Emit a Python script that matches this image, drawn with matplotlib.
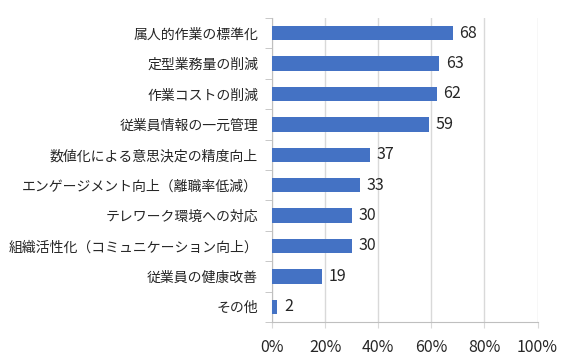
import numpy as np
import matplotlib
matplotlib.use("Agg")
import matplotlib.pyplot as plt

plt.rcParams['font.family'] = ['Noto Sans CJK JP', 'DejaVu Sans']

labels = ["属人的作業の標準化", "定型業務量の削減", "作業コストの削減", "従業員情報の一元管理",
          "数値化による意思決定の精度向上", "エンゲージメント向上（離職率低減）",
          "テレワーク環境への対応", "組織活性化（コミュニケーション向上）",
          "従業員の健康改善", "その他"]
values = [68, 63, 62, 59, 37, 33, 30, 30, 19, 2]
xticks = [0, 20, 40, 60, 80, 100]
xlabels = ["0%", "20%", "40%", "60%", "80%", "100%"]

text_col = "#262626"
fig = plt.figure(figsize=(5.71, 3.59), dpi=100)
ax = fig.add_axes([272/571, 37/359, 265.5/571, 304/359])

y = np.arange(len(labels))
ax.barh(y, values, height=0.48, color="#4472C4", zorder=3)
for yi, v in zip(y, values):
    ax.text(v + 2.5, yi, str(v), va='center', ha='left', fontsize=11.5, color=text_col)

ax.set_xlim(0, 100)
ax.set_ylim(len(labels) - 0.5, -0.5)
ax.set_xticks(xticks)
ax.set_xticklabels(xlabels, fontsize=11.5, color=text_col)
ax.set_yticks(y)
ax.set_yticklabels(labels, fontsize=10, color=text_col)
ax.set_yticks(np.arange(len(labels) + 1) - 0.5, minor=True)
ax.tick_params(axis='y', which='major', length=0, pad=10)
ax.tick_params(axis='y', which='minor', length=5, color="#BFBFBF")
ax.tick_params(axis='x', length=4, color="#D9D9D9", pad=8)
ax.grid(axis='x', color="#D9D9D9", linewidth=1, zorder=0)
for s in ['top', 'right']:
    ax.spines[s].set_visible(False)
for s in ['left', 'bottom']:
    ax.spines[s].set_color("#BFBFBF")

fig.savefig("out.png", dpi=100)
